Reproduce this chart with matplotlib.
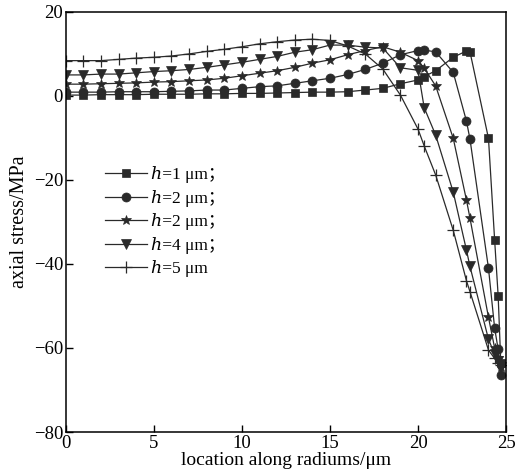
import matplotlib
matplotlib.use("Agg")
import matplotlib.pyplot as plt

plt.rcParams["font.family"] = ["Liberation Serif", "DejaVu Serif", "Noto Sans CJK SC"]
plt.rcParams["font.size"] = 12

# shared radial positions (um)
x = list(range(0, 21)) + [20.35, 21, 22, 22.75, 22.95, 24, 24.35, 24.55, 24.7]

s_h1 = [0.2, 0.2, 0.3, 0.3, 0.3, 0.4, 0.4, 0.4, 0.5, 0.5, 0.6, 0.6, 0.7, 0.8, 0.9,
        0.9, 1.0, 1.4, 1.8, 2.9, 3.8, 4.6, 6.0, 9.2, 10.7, 10.5, -10.1, -34.3, -47.6, -63.6]
s_h2a = [0.9, 0.9, 0.9, 1.0, 1.0, 1.0, 1.1, 1.2, 1.4, 1.4, 1.8, 2.2, 2.4, 3.0, 3.6,
         4.2, 5.1, 6.3, 7.8, 9.8, 10.8, 10.9, 10.5, 5.6, -6.0, -10.3, -41.0, -55.3, -60.3, -66.5]
s_h2b = [2.8, 2.8, 2.9, 3.0, 3.1, 3.3, 3.4, 3.6, 3.8, 4.2, 4.8, 5.4, 6.0, 6.8, 7.8,
         8.6, 9.8, 10.8, 11.7, 10.4, 8.4, 6.6, 2.4, -10.1, -24.8, -29.1, -52.7, -60.0, -62.5, -64.5]
s_h4 = [5.0, 5.0, 5.2, 5.2, 5.5, 5.8, 6.0, 6.3, 6.8, 7.4, 8.0, 8.7, 9.4, 10.4, 11.0,
        12.1, 12.1, 11.6, 11.4, 6.7, 6.1, -2.8, -9.3, -22.9, -36.7, -40.6, -57.9, -61.5, -63.0, -64.5]
s_h5 = [8.4, 8.4, 8.4, 8.7, 9.0, 9.2, 9.5, 10.0, 10.6, 11.1, 11.7, 12.4, 12.9, 13.3, 13.5,
        13.2, 11.9, 10.0, 6.4, 0.2, -7.9, -11.9, -18.8, -32.0, -44.0, -46.6, -60.5, -62.5, -63.5, -64.0]

labels = ["ℎ=1 μm；", "ℎ=2 μm；", "ℎ=2 μm；", "ℎ=4 μm；", "ℎ=5 μm"]
series = [s_h1, s_h2a, s_h2b, s_h4, s_h5]
markers = ["s", "o", "*", "v", "+"]
msizes = [5.5, 6.5, 7.5, 7, 9]

fig = plt.figure(figsize=(5.18, 4.76), dpi=100)
ax = fig.add_axes([0.127, 0.0924, 0.85, 0.8826])

for y, m, ms, lab in zip(series, markers, msizes, labels):
    ax.plot(x, y, marker=m, markersize=ms, color="#2a2a2a", linewidth=0.9,
            markeredgewidth=0.9 if m == "+" else 0.5, label=lab)

ax.set_xlim(0, 25)
ax.set_ylim(-80, 20)
ax.set_xticks([0, 5, 10, 15, 20, 25])
ax.set_yticks([-80, -60, -40, -20, 0, 20])
ax.tick_params(direction="in", length=5, width=1, labelsize=13.5, pad=2)
for sp in ax.spines.values():
    sp.set_linewidth(1.1)

ax.set_xlabel("location along radiums/μm", fontsize=14, labelpad=0)
ax.set_ylabel("axial stress/MPa", fontsize=14.5, labelpad=3)

ax.legend(loc="upper left", bbox_to_anchor=(0.19, 0.665), bbox_transform=fig.transFigure,
          frameon=False, numpoints=1, handlelength=2.4, handletextpad=0.25,
          labelspacing=0.38, fontsize=12.5, borderaxespad=0)

fig.savefig("out.png", dpi=100)
